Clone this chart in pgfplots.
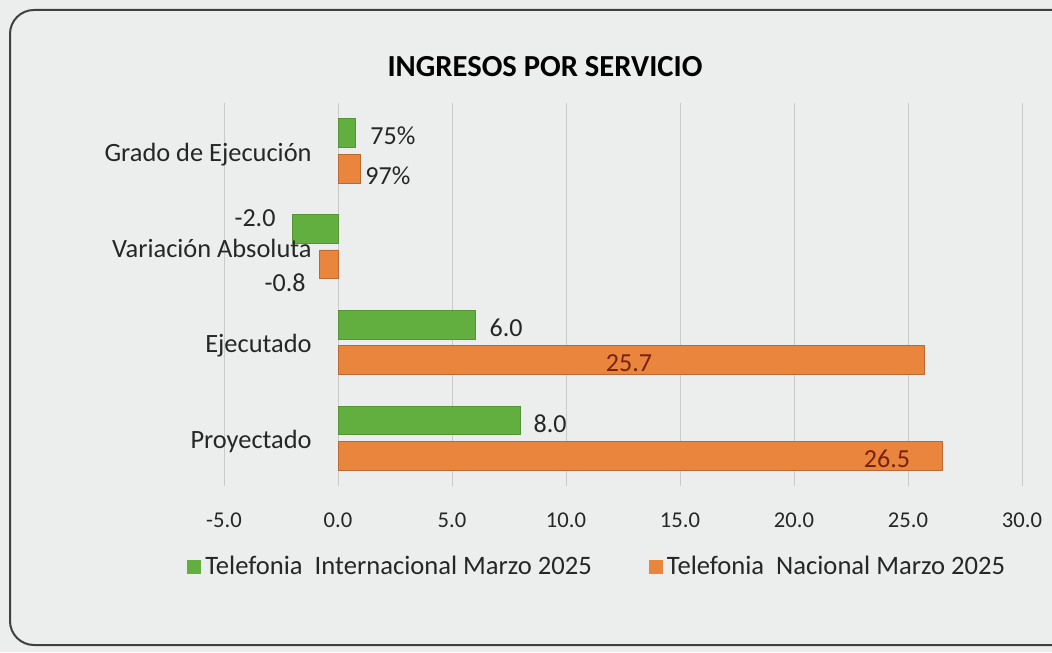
\documentclass[border=0pt]{standalone}
\usepackage{fontspec}
\setmainfont{Carlito}
\usepackage{pgfplots}
\pgfplotsset{compat=1.18}
\definecolor{bg}{HTML}{ECEEEE}
\definecolor{gr}{HTML}{62AE3E}
\definecolor{orng}{HTML}{E9853D}
\definecolor{txt}{HTML}{262626}
\definecolor{lbl}{HTML}{7A200E}
\definecolor{gridc}{HTML}{CACACA}
\begin{document}
\begin{tikzpicture}
\useasboundingbox (0,0) rectangle (526pt,326pt);
\clip (0,0) rectangle (526pt,326pt);
\fill[bg] (0,0) rectangle (526pt,326pt);
\draw[line width=1pt, color=black!75, rounded corners=12pt, fill=bg] (5pt,3.5pt) rectangle (545pt,321pt);
\node[font=\bfseries\fontsize{15.3}{17}\selectfont, text=black] at (272.5pt,292.5pt) {INGRESOS POR SERVICIO};
\begin{axis}[
  at={(112pt,83pt)}, anchor=south west,
  scale only axis, width=399pt, height=191.5pt,
  xmin=-5, xmax=30, ymin=-0.5, ymax=3.5,
  xtick={-5,0,5,10,15,20,25,30}, ytick=\empty,
  xmajorgrids, grid style={gridc, line width=0.5pt},
  axis line style={draw=none},
  major tick length=0pt,
  xticklabel={\pgfmathprintnumber[fixed,fixed zerofill,precision=1]{\tick}},
  /pgf/number format/assume math mode=true,
  tick label style={font=\fontsize{11.3}{13}\selectfont, text=txt},
  xticklabel style={yshift=-10pt},
  xbar, bar width=0.3,
  clip=false,
  legend style={at={(-0.0464,-0.2115)}, anchor=west, draw=none, fill=none, inner sep=0pt,
    font=\fontsize{13.3}{15}\selectfont, text=txt,
    /tikz/every even column/.append style={column sep=26.5pt}},
  legend columns=2, legend cell align=left,
  legend image code/.code={\fill[#1, draw=none] (0pt,-3.5pt) rectangle (7pt,3.5pt);},
]
\addplot[fill=gr, draw=gr!85!black, line width=0.3pt, bar shift=0.185] coordinates {(0.75,3) (-2,2) (6,1) (8,0)};
\addplot[fill=orng, draw=orng!80!black, line width=0.3pt, bar shift=-0.185] coordinates {(0.97,3) (-0.8,2) (25.7,1) (26.5,0)};
\legend{Telefonia\ \ Internacional Marzo 2025, Telefonia\ \ Nacional Marzo 2025}
\begin{scope}[every node/.style={inner sep=0pt, font=\fontsize{13.2}{15}\selectfont, text=txt}]
\node[anchor=east, xshift=-13pt, yshift=-2pt] at (axis cs:0,3) {Grado de Ejecución};
\node[anchor=east, xshift=-13pt, yshift=-1pt] at (axis cs:0,2) {Variación Absoluta};
\node[anchor=east, xshift=-13pt, yshift=-1.5pt] at (axis cs:0,1) {Ejecutado};
\node[anchor=east, xshift=-13pt, yshift=-1.5pt] at (axis cs:0,0) {Proyectado};
\end{scope}
\begin{scope}[every node/.style={inner sep=0pt, font=\fontsize{13}{15}\selectfont, text=txt}]
\node at (axis cs:2.41,3.155) {75\%};
\node at (axis cs:2.19,2.738) {97\%};
\node at (axis cs:-3.64,2.299) {-2.0};
\node at (axis cs:-2.32,1.62) {-0.8};
\node at (axis cs:7.37,1.15) {6.0};
\node[text=lbl] at (axis cs:12.76,0.785) {25.7};
\node at (axis cs:9.30,0.148) {8.0};
\node[text=lbl] at (axis cs:24.08,-0.218) {26.5};
\end{scope}
\end{axis}
\end{tikzpicture}
\end{document}
